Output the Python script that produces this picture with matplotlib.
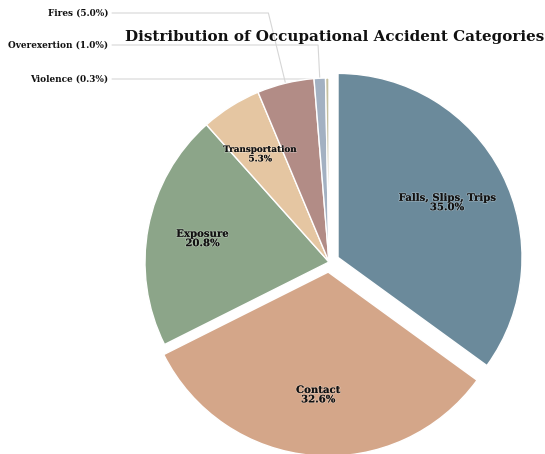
import numpy as np
import matplotlib
matplotlib.use("Agg")
import matplotlib.pyplot as plt
import matplotlib.patheffects as pe

categories = ["Falls, Slips, Trips", "Contact", "Exposure", "Transportation",
              "Fires", "Overexertion", "Violence"]
values = [35.0, 32.6, 20.8, 5.3, 5.0, 1.0, 0.3]
colors = ["#6b8a9b", "#d4a689", "#8ca589", "#e5c6a2", "#b28c86", "#a3b1c2", "#c5c0a0"]
explode = [0.055, 0.055, 0, 0, 0, 0, 0]
inside = [True, True, True, True, False, False, False]
title = "Distribution of Occupational Accident Categories"

W, H, DPI = 545, 454, 100
fig = plt.figure(figsize=(W / DPI, H / DPI), dpi=DPI)
ax = fig.add_axes([0, 0, 1, 1])
cx, cy, R = 329, 262, 184

wedges, _ = ax.pie(values, colors=colors, explode=explode, startangle=90,
                   counterclock=False, radius=1.0,
                   wedgeprops=dict(edgecolor="white", linewidth=1))
ax.set_xlim(-cx / R, (W - cx) / R)
ax.set_ylim(-(H - cy) / R, cy / R)
ax.set_aspect("equal")
ax.axis("off")

serif = "DejaVu Serif"
label_y = {"Fires": (262 - 13) / R, "Overexertion": (262 - 45) / R, "Violence": (262 - 79) / R}
label_x = (108 - cx) / R

for w, name, v, ins, ex in zip(wedges, categories, values, inside, explode):
    mid = np.deg2rad((w.theta1 + w.theta2) / 2)
    ox, oy = ex * np.cos(mid), ex * np.sin(mid)
    if ins:
        d = 0.7 if ex == 0 else 0.665
        fs = 6.3 if v < 10 else 7.3
        ax.text(ox + d * np.cos(mid), oy + d * np.sin(mid) - 0.006, f"{name}\n{v:.1f}%",
                ha="center", va="center", fontsize=fs, fontweight="bold",
                family=serif, color="#111111", linespacing=1.05,
                path_effects=[pe.withStroke(linewidth=1.2, foreground=(1, 1, 1, 0.25))])
    else:
        ly = label_y[name]
        tx, ty = np.cos(mid) * 1.0, np.sin(mid) * 1.0
        ex_x = ly * np.cos(mid) / np.sin(mid)
        ax.plot([tx, ex_x, label_x + 0.02], [ty, ly, ly], color="#d6d6d6", lw=0.8,
                solid_capstyle="butt", zorder=0)
        ax.text(label_x, ly, f"{name} ({v:.1f}%)", ha="right", va="center",
                fontsize=6.4, fontweight="bold", family=serif, color="#111111")

fig.text(334.5 / W, 1 - 37 / H, title, ha="center", va="center",
         fontsize=10.9, fontweight="bold", family=serif, color="#111111")

fig.savefig("out.png", dpi=DPI)
